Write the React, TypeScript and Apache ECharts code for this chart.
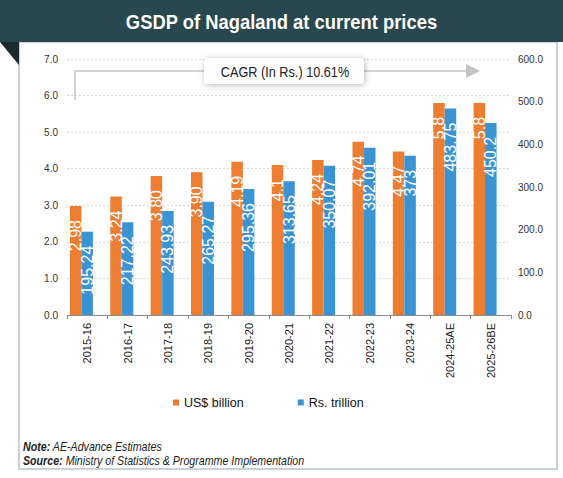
import React, { useEffect, useRef } from "react";
import * as echarts from "echarts";

const categories = [
  "2015-16", "2016-17", "2017-18", "2018-19", "2019-20", "2020-21",
  "2021-22", "2022-23", "2023-24", "2024-25AE", "2025-26BE",
];
const usdValues = [2.98, 3.24, 3.8, 3.9, 4.19, 4.1, 4.24, 4.74, 4.47, 5.8, 5.8];
const usdLabels = ["2.98", "3.24", "3.80", "3.90", "4.19", "4.1", "4.24", "4.74", "4.47", "5.8", "5.8"];
const rsValues = [195.24, 217.22, 243.93, 265.27, 295.36, 313.65, 350.07, 392.01, 373, 483.75, 450.2];
const rsLabels = ["195.24", "217.22", "243.93", "265.27", "295.36", "313.65", "350.07", "392.01", "373", "483.75", "450.2"];
const leftTicks = { min: 0, max: 7, interval: 1 };
const rightTicks = { min: 0, max: 600, interval: 100 };
const seriesNames = ["US$ billion", "Rs. trillion"];
const titleText = "GSDP of Nagaland at current prices";
const cagrText = "CAGR (In Rs.) 10.61%";
const noteLabel = "Note:";
const noteText = " AE-Advance Estimates";
const sourceLabel = "Source:";
const sourceText = " Ministry of Statistics & Programme Implementation";

const REG = '"Liberation Sans", Arial, sans-serif';
const ORANGE = "#ED7D31";
const BLUE = "#3A93D3";

export default function App() {
  const ref = useRef<HTMLDivElement>(null);
  useEffect(() => {
    document.body.style.margin = "0";
    const chart = echarts.init(ref.current!, undefined, { renderer: "svg" });
    const barLabel = (labels: string[]) => ({
      show: true,
      position: "insideTop",
      rotate: 90,
      align: "right",
      verticalAlign: "middle",
      distance: 14,
      color: "#fff",
      fontSize: 16,
      fontFamily: REG,
      formatter: (p: any) => labels[p.dataIndex],
    });
    chart.setOption({
      animation: false,
      backgroundColor: "#fff",
      grid: { left: 67, right: 52, top: 59, bottom: 163, containLabel: false },
      legend: {
        data: seriesNames,
        left: 168,
        top: 391,
        icon: "rect",
        itemWidth: 6,
        itemHeight: 6,
        itemGap: 54,
        textStyle: { fontFamily: REG, fontSize: 12.5, color: "#111" },
      },
      xAxis: {
        type: "category",
        data: categories,
        axisLine: { lineStyle: { color: "#8c8c8c", width: 1 } },
        axisTick: { show: true, length: 4, lineStyle: { color: "#8c8c8c" } },
        axisLabel: { rotate: 90, fontFamily: REG, fontSize: 11, color: "#222", margin: 8, interval: 0 },
      },
      yAxis: [
        {
          type: "value",
          min: leftTicks.min,
          max: leftTicks.max,
          interval: leftTicks.interval,
          axisLine: { show: false },
          axisTick: { show: false },
          axisLabel: {
            fontFamily: REG, fontSize: 10, color: "#333", margin: 9,
            formatter: (v: number) => v.toFixed(1),
          },
          splitLine: { lineStyle: { color: "#d9d9d9", type: [2, 2], width: 1 } },
        },
        {
          type: "value",
          min: rightTicks.min,
          max: rightTicks.max,
          interval: rightTicks.interval,
          axisLine: { show: false },
          axisTick: { show: false },
          axisLabel: {
            fontFamily: REG, fontSize: 10, color: "#333", margin: 7,
            formatter: (v: number) => v.toFixed(1),
          },
          splitLine: { show: false },
        },
      ],
      series: [
        {
          name: seriesNames[0],
          type: "bar",
          yAxisIndex: 0,
          data: usdValues,
          barWidth: 11.5,
          barGap: "0%",
          itemStyle: { color: ORANGE },
          label: barLabel(usdLabels),
        },
        {
          name: seriesNames[1],
          type: "bar",
          yAxisIndex: 1,
          data: rsValues,
          barWidth: 11.5,
          barGap: "0%",
          itemStyle: { color: BLUE },
          label: barLabel(rsLabels),
        },
        {
          name: "spacer",
          type: "bar",
          yAxisIndex: 0,
          data: categories.map(() => null),
          barWidth: 11.5,
          barGap: "0%",
          silent: true,
          itemStyle: { color: "transparent" },
        },
      ],
      graphic: [
        {
          type: "rect",
          z: -10,
          silent: true,
          shape: { x: 19, y: 42, width: 538, height: 427 },
          style: { fill: "#fff", stroke: "#c9d1d4", lineWidth: 2 },
        },
        {
          type: "rect",
          z: 10,
          shape: { x: 0, y: 0, width: 563, height: 42 },
          style: { fill: "#28474e" },
        },
        {
          type: "polygon",
          z: 10,
          shape: { points: [[0, 42], [19, 42], [19, 65]] },
          style: { fill: "#1a2a2e" },
        },
        {
          type: "text",
          z: 11,
          x: 281.5,
          y: 22,
          scaleX: 0.92,
          style: {
            text: titleText,
            fill: "#fff",
            font: `bold 20px ${REG}`,
            textAlign: "center",
            textVerticalAlign: "middle",
          },
        },
        {
          type: "polyline",
          z: 5,
          shape: { points: [[75, 100], [75, 71], [466, 71]] },
          style: { stroke: "#d3d3d3", lineWidth: 2, fill: "none" },
        },
        {
          type: "polygon",
          z: 5,
          shape: { points: [[466, 64], [480, 71], [466, 78]] },
          style: { fill: "#c4c4c4" },
        },
        {
          type: "rect",
          z: 6,
          shape: { x: 204, y: 58, width: 160, height: 26, r: 4 },
          style: {
            fill: "#fff",
            shadowBlur: 6,
            shadowColor: "rgba(0,0,0,0.28)",
            shadowOffsetX: 1,
            shadowOffsetY: 1,
          },
        },
        {
          type: "text",
          z: 7,
          x: 285,
          y: 71.5,
          scaleX: 0.82,
          style: {
            text: cagrText,
            fill: "#222",
            font: `15.5px ${REG}`,
            textAlign: "center",
            textVerticalAlign: "middle",
          },
        },
        {
          type: "text",
          z: 7,
          x: 23,
          y: 447,
          scaleX: 0.82,
          style: {
            text: `{b|${noteLabel}}{n|${noteText}}`,
            textVerticalAlign: "middle",
            rich: {
              b: { font: `italic bold 13px ${REG}`, fill: "#222" },
              n: { font: `italic 13px ${REG}`, fill: "#222" },
            },
          },
        },
        {
          type: "text",
          z: 7,
          x: 23,
          y: 461,
          scaleX: 0.82,
          style: {
            text: `{b|${sourceLabel}}{n|${sourceText}}`,
            textVerticalAlign: "middle",
            rich: {
              b: { font: `italic bold 13px ${REG}`, fill: "#222" },
              n: { font: `italic 13px ${REG}`, fill: "#222" },
            },
          },
        },
      ],
    });
    return () => chart.dispose();
  }, []);
  return (
    <div
      ref={ref}
      style={{ position: "absolute", left: 0, top: 0, width: 563, height: 478 }}
    />
  );
}
